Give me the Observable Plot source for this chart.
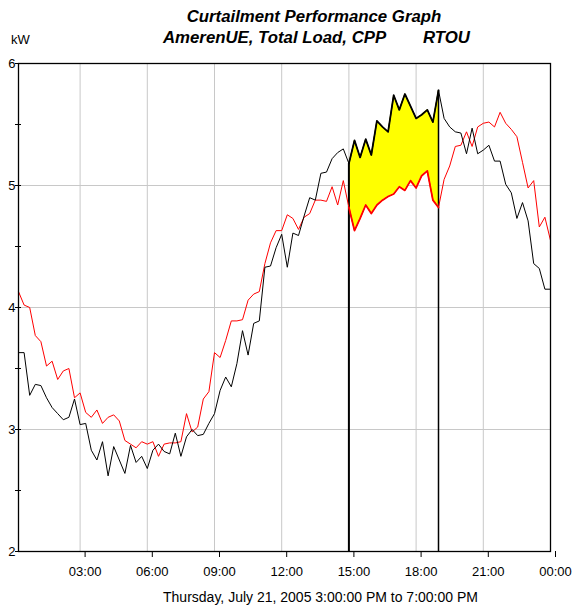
<!DOCTYPE html>
<html><head><meta charset="utf-8">
<script src="https://cdn.jsdelivr.net/npm/d3@7"></script>
<script src="https://cdn.jsdelivr.net/npm/@observablehq/plot@0.6"></script>
<style>
body{margin:0;background:#fff;font-family:"Liberation Sans",Arial,sans-serif;}
#wrap{position:relative;width:572px;height:607px;overflow:hidden;}
#head{position:relative;height:55px;}
.t{position:absolute;font-weight:bold;font-style:italic;font-size:16.8px;line-height:18px;white-space:nowrap;color:#000;}
#kw{position:absolute;left:11px;top:33px;font-size:13px;line-height:14px;color:#000;}
svg{display:block;}
</style></head>
<body>
<div id="wrap">
  <div id="head">
    <div class="t" id="t1" style="left:314px;top:8px;transform:translateX(-50%);">Curtailment Performance Graph</div>
    <div class="t" style="left:163px;top:29px;">AmerenUE, Total Load, CPP</div>
    <div class="t" style="left:423px;top:29px;">RTOU</div>
    <div id="kw">kW</div>
  </div>
  <div id="chart"></div>
</div>
<script>
// Time of day (hours) for each 15-minute interval end, 00:15 .. 24:00
const hours = d3.range(96).map(k => 0.25 + k * 0.25);

// Actual load (black)
const actual = [
  3.63,3.63,3.28,3.37,3.36,3.26,3.18,3.13,3.08,3.10,3.25,3.04,
  3.05,2.83,2.75,2.90,2.62,2.86,2.75,2.64,2.87,2.73,2.78,2.68,
  2.83,2.88,2.82,2.80,2.97,2.78,2.94,3.00,2.95,2.96,3.05,3.13,
  3.32,3.43,3.35,3.54,3.81,3.61,3.87,3.89,4.33,4.34,4.49,4.60,
  4.33,4.61,4.59,4.75,4.90,4.88,5.10,5.11,5.22,5.27,5.30,5.18,
  5.37,5.23,5.38,5.25,5.53,5.48,5.44,5.74,5.62,5.75,5.65,5.55,
  5.58,5.62,5.52,5.78,5.55,5.48,5.44,5.43,5.26,5.47,5.26,5.29,
  5.33,5.20,5.20,5.01,4.94,4.73,4.86,4.71,4.36,4.32,4.15,4.15
];

// Baseline load (red)
const baseline = [
  4.13,4.02,4.00,3.77,3.72,3.52,3.56,3.41,3.48,3.50,3.26,3.30,
  3.14,3.10,3.16,3.05,3.10,3.12,3.07,2.91,2.88,2.85,2.90,2.88,
  2.90,2.78,2.88,2.89,2.89,2.90,3.13,2.98,3.02,3.25,3.31,3.63,
  3.59,3.73,3.89,3.89,3.90,4.06,4.11,4.13,4.36,4.53,4.63,4.63,
  4.76,4.73,4.64,4.74,4.77,4.88,4.88,4.87,4.99,4.84,5.04,4.82,
  4.63,4.73,4.84,4.77,4.84,4.88,4.91,4.93,4.99,4.96,5.04,4.98,
  5.08,5.12,4.88,4.82,5.05,5.16,5.32,5.33,5.44,5.32,5.48,5.51,
  5.52,5.48,5.60,5.51,5.46,5.40,5.19,4.98,5.04,4.66,4.74,4.55
];

// Curtailment event window (hours)
const eventStart = 15, eventEnd = 19;
const xTicks = [3, 6, 9, 12, 15, 18, 21, 24];
const yTicks = [2, 3, 4, 5, 6];
const yMinorTicks = [2, 2.5, 3, 3.5, 4, 4.5, 5, 5.5, 6];
const yDomain = [2, 6];
const caption = "Thursday, July 21, 2005 3:00:00 PM to 7:00:00 PM";

const rows = hours.map((h, i) => ({h, actual: actual[i], baseline: baseline[i]}));
const zone = rows.filter(d => d.h >= eventStart && d.h <= eventEnd);
const edges = rows.filter(d => d.h === eventStart || d.h === eventEnd);

const fmt = h => String(h % 24).padStart(2, "0") + ":00";
const font = '"Liberation Sans", Arial, sans-serif';

const chart = Plot.plot({
  width: 572,
  height: 552,
  marginTop: 8,
  marginBottom: 56,
  marginLeft: 18,
  marginRight: 22,
  style: {fontFamily: font, fontSize: "13px", color: "#000", background: "#fff"},
  x: {domain: [d3.min(hours), 24], label: null},
  y: {domain: yDomain, label: null},
  marks: [
    Plot.gridX(xTicks.filter(t => t < 24), {stroke: "#c8c8c8", strokeOpacity: 1, strokeWidth: 1}),
    Plot.gridY(yTicks.filter(t => t > 2 && t < 6), {stroke: "#c8c8c8", strokeOpacity: 1, strokeWidth: 1}),
    Plot.areaY(zone, {x: "h", y1: "baseline", y2: "actual", fill: "#ffff00", curve: "linear"}),
    Plot.ruleX(edges, {x: "h", y1: yDomain[0], y2: "actual", stroke: "#000", strokeWidth: d => d.h === eventStart ? 2 : 1.5}),
    Plot.line(rows, {x: "h", y: "baseline", stroke: "#ff0000", strokeWidth: 1}),
    Plot.line(rows, {x: "h", y: "actual", stroke: "#000", strokeWidth: 1}),
    Plot.line(zone, {x: "h", y: "baseline", stroke: "#ff0000", strokeWidth: 1.8}),
    Plot.line(zone, {x: "h", y: "actual", stroke: "#000", strokeWidth: 1.8}),
    Plot.frame({stroke: "#000", strokeWidth: 1.3}),
    Plot.axisY(yMinorTicks, {tickSize: 6, dx: 3, tickFormat: () => "", stroke: "#000", label: null}),
    Plot.axisY(yTicks, {tickSize: 0, tickPadding: 3, tickFormat: d => String(d), fontSize: 13, label: null}),
    Plot.axisX(xTicks, {tickSize: 6, tickPadding: 9, dx: 5, tickFormat: fmt, fontSize: 13, stroke: "#000", label: null}),
    Plot.text([caption], {text: d => d, frameAnchor: "bottom", dy: 50, dx: 36, fontSize: 14})
  ]
});
document.getElementById("chart").appendChild(chart);
</script>
</body></html>
